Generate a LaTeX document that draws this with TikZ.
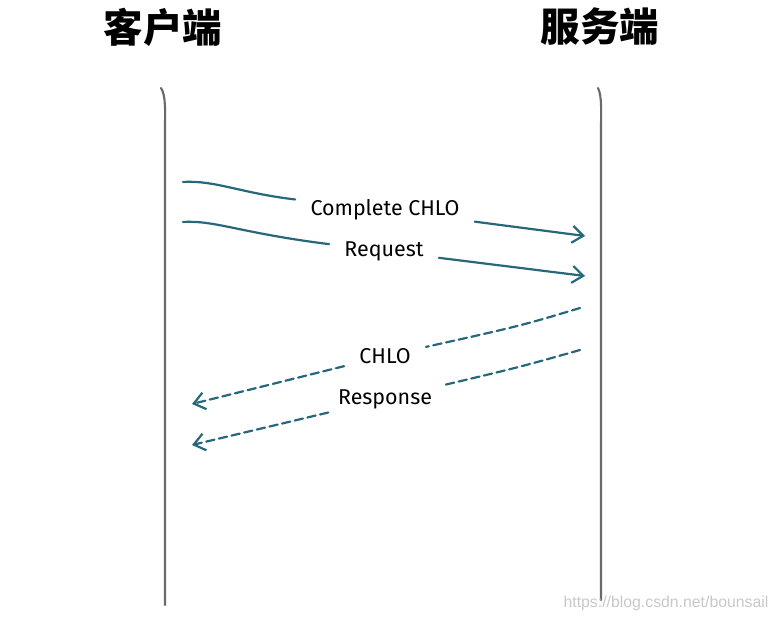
\documentclass[tikz,border=0pt]{standalone}
\usepackage{fontspec}
\setsansfont{Fira Sans}
\newfontfamily\cjk{Noto Sans CJK SC}
\newfontfamily\urlfont{Liberation Sans}
\usetikzlibrary{arrows.meta}
\definecolor{LineTeal}{RGB}{38,104,122}
\definecolor{LifeGray}{RGB}{105,105,105}
\definecolor{MarkGray}{RGB}{200,200,200}

\begin{document}
\begin{tikzpicture}[x=0.02cm, y=-0.02cm,
  every node/.style={font=\sffamily\fontsize{12.2}{14}\selectfont, inner xsep=0.3cm, inner ysep=2pt},
  head/.style={font=\cjk\bfseries\fontsize{22.5}{26}\selectfont, inner sep=0pt},
  lifeline/.style={LifeGray, line width=1.2pt, line cap=round},
  msg/.style={LineTeal, line width=1.25pt, line cap=round},
  reply/.style={msg, dash pattern=on 4.8pt off 2.6pt},
  tip/.style={-{Straight Barb[length=2.2mm, width=3.4mm]}}]
  \useasboundingbox (0,0) rectangle (777,621);

  % the two sides
  \node[head] (client) at (163,27) {客户端};
  \node[head] (server) at (600,27) {服务端};

  \coordinate (ctop) at (161,88);
  \coordinate (cbot) at (165,605);
  \coordinate (stop) at (598,88);
  \coordinate (sbot) at (601,600);
  \draw[lifeline] (ctop) .. controls (166,96) and (165,110) .. (165,130) -- (cbot);
  \draw[lifeline] (stop) .. controls (602,96) and (601,110) .. (601,130) -- (sbot);

  % client -> server
  \node (chlo) at (385,210) {Complete CHLO};
  \coordinate (chloS) at (183,182);
  \coordinate (chloE) at (585,236);
  \draw[msg] (chloS) .. controls (215,180) and (240,193) .. (chlo);
  \draw[msg, tip] (chlo) -- (chloE);

  \node (req) at (384,251) {Request};
  \coordinate (reqS) at (183,222);
  \coordinate (reqE) at (585,276);
  \draw[msg] (reqS) .. controls (215,220) and (240,233) .. (req);
  \draw[msg, tip] (req) -- (reqE);

  % server -> client
  \node (shlo) at (385,356) {CHLO};
  \coordinate (shloS) at (580,308);
  \coordinate (shloE) at (192,404);
  \draw[reply] (shloS) .. controls (520,326) .. (shlo);
  \draw[reply, tip] (shlo) -- (shloE);

  \node (resp) at (385,399) {Response};
  \coordinate (respS) at (580,350);
  \coordinate (respE) at (192,445);
  \draw[reply] (respS) .. controls (520,367) .. (resp);
  \draw[reply, tip] (resp) -- (respE);

  \node[font=\urlfont\fontsize{9}{11}\selectfont, text=MarkGray, inner sep=0pt] (mark) at (666,603) {https://blog.csdn.net/bounsail};
\end{tikzpicture}
\end{document}
